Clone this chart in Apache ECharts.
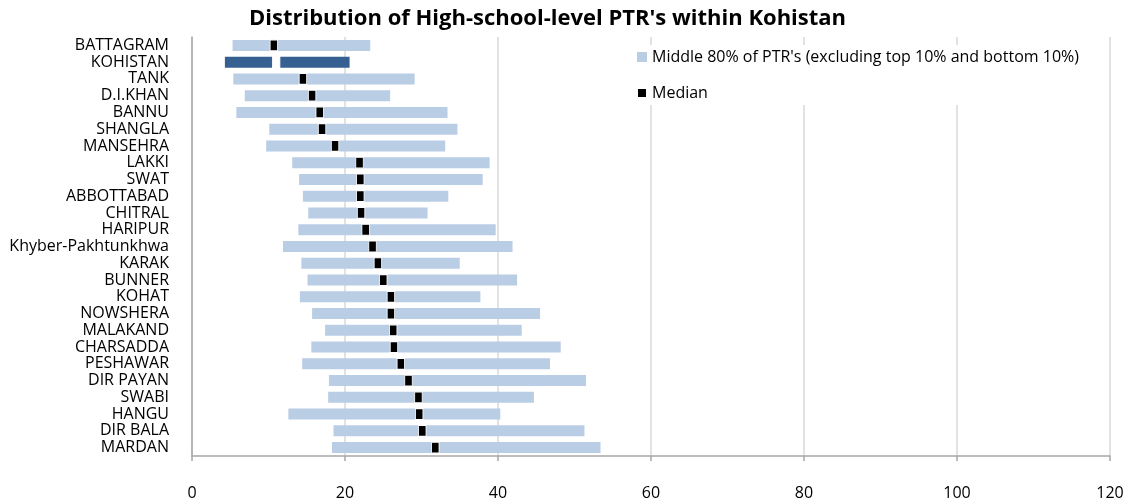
<!DOCTYPE html>
<html>
<head>
<meta charset="utf-8">
<script src="https://cdn.jsdelivr.net/npm/echarts@6/dist/echarts.min.js"></script>
<style>html,body{margin:0;padding:0;background:#fff;}#c{width:1131px;height:504px;}</style>
</head>
<body>
<div id="c"></div>
<script>
const categories = ['BATTAGRAM','KOHISTAN','TANK','D.I.KHAN','BANNU','SHANGLA','MANSEHRA','LAKKI','SWAT','ABBOTTABAD','CHITRAL','HARIPUR','Khyber-Pakhtunkhwa','KARAK','BUNNER','KOHAT','NOWSHERA','MALAKAND','CHARSADDA','PESHAWAR','DIR PAYAN','SWABI','HANGU','DIR BALA','MARDAN'];
const low10 = [5.3,4.3,5.4,6.9,5.8,10.1,9.7,13.1,14.0,14.5,15.2,13.9,11.9,14.3,15.1,14.1,15.7,17.4,15.6,14.4,17.9,17.8,12.6,18.5,18.3];
const high90 = [23.3,20.6,29.1,25.9,33.4,34.7,33.1,38.9,38.0,33.5,30.8,39.7,41.9,35.0,42.5,37.7,45.5,43.1,48.2,46.8,51.5,44.7,40.3,51.3,53.4];
const median = [10.7,11.0,14.5,15.7,16.7,17.0,18.7,21.9,22.0,22.0,22.1,22.7,23.6,24.3,25.0,26.0,26.0,26.3,26.4,27.3,28.3,29.6,29.7,30.1,31.8];
const highlight = 'KOHISTAN';

const FONT = 'Open Sans';
const LIGHT = '#B9CDE5';
const DARK = '#376092';

const rangeData = categories.map((c, i) => {
  const v = +(high90[i] - low10[i]).toFixed(2);
  return c === highlight ? {value: v, itemStyle: {color: DARK}} : v;
});
const medianData = categories.map((c, i) => {
  const d = {value: [median[i], c]};
  if (c === highlight) d.itemStyle = {color: '#fff', borderColor: '#fff'};
  return d;
});

const chart = echarts.init(document.getElementById('c'), null, {renderer: 'canvas'});
chart.setOption({
  animation: false,
  backgroundColor: '#fff',
  title: {
    text: "Distribution of High-school-level PTR's within Kohistan",
    left: 244, top: 3,
    textStyle: {fontFamily: FONT, fontSize: 22, fontWeight: 'bold', color: '#000'}
  },
  legend: {
    orient: 'vertical',
    left: 632, top: 45,
    itemWidth: 10, itemHeight: 10, itemGap: 20,
    backgroundColor: '#fff',
    padding: [4, 6, 4, 4],
    data: [
      {name: "Middle 80% of PTR's (excluding top 10% and bottom 10%)", icon: 'rect'},
      {name: 'Median', icon: 'rect'}
    ],
    textStyle: {fontFamily: FONT, fontSize: 16, color: '#000', padding: [0, 0, 0, 0]}
  },
  grid: {left: 192, right: 21, top: 37, bottom: 48, containLabel: false},
  xAxis: {
    type: 'value', min: 0, max: 120, interval: 20,
    axisLine: {show: true, lineStyle: {color: '#A6A6A6', width: 1.5}},
    axisTick: {show: true, length: 5, lineStyle: {color: '#A6A6A6', width: 1.5}},
    axisLabel: {fontFamily: FONT, fontSize: 16, color: '#000', margin: 29},
    splitLine: {show: true, lineStyle: {color: '#D9D9D9', width: 1.5}}
  },
  yAxis: {
    type: 'category', data: categories, inverse: true,
    axisLine: {show: true, lineStyle: {color: '#A6A6A6', width: 1.5}},
    axisTick: {show: false},
    axisLabel: {fontFamily: FONT, fontSize: 16, color: '#000', margin: 23, interval: 0}
  },
  series: [
    {
      name: 'base', type: 'bar', stack: 'r', barWidth: 11,
      itemStyle: {color: 'rgba(0,0,0,0)'},
      emphasis: {disabled: true},
      data: low10
    },
    {
      name: "Middle 80% of PTR's (excluding top 10% and bottom 10%)",
      type: 'bar', stack: 'r', barWidth: 11,
      itemStyle: {color: LIGHT},
      data: rangeData
    },
    {
      name: 'Median', type: 'scatter', symbol: 'rect', symbolSize: [7.5, 11],
      itemStyle: {color: '#000', borderColor: '#fff', borderWidth: 1, opacity: 1},
      z: 5,
      data: medianData
    }
  ]
});
</script>
</body>
</html>
